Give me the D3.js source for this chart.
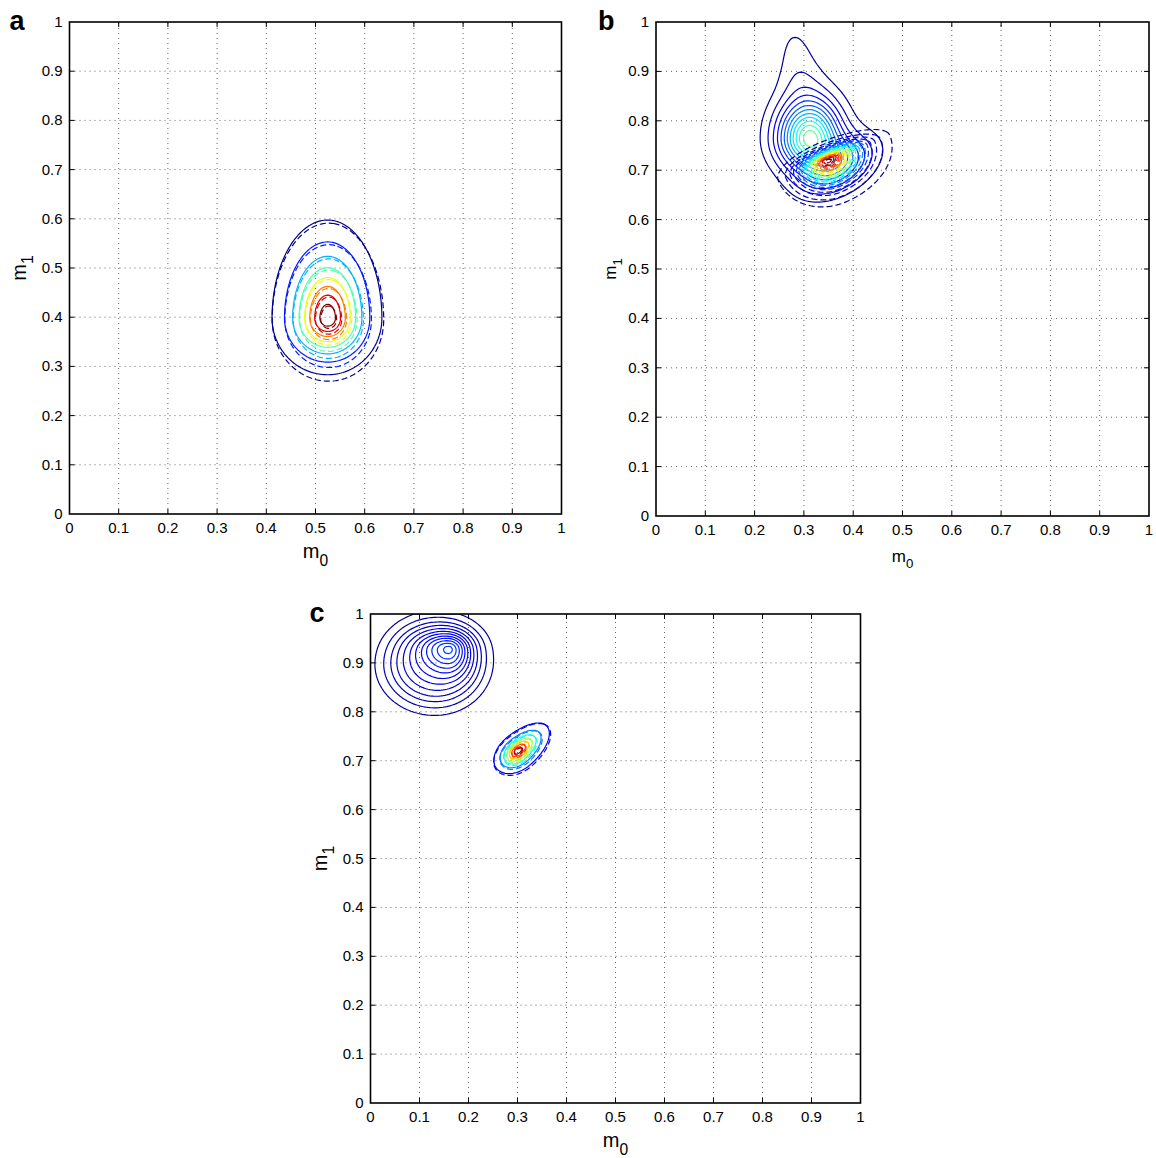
<!DOCTYPE html>
<html lang="en">
<head>
<meta charset="utf-8"/>
<title>Contours</title>
<script src="https://d3js.org/d3.v7.min.js"></script>
<style>
    body { margin: 0; background: #fff; }
    svg { display: block; }
    text { font-family: "Liberation Sans", Arial, Helvetica, sans-serif; fill: #000; }
    .grid line { stroke: #666; stroke-width: 1; stroke-dasharray: 1,4; }
</style>
</head>
<body>
<svg id="chart" width="1156" height="1158"></svg>
<script>
    // tick values shared by every panel
    const ticks = [0, 0.1, 0.2, 0.3, 0.4, 0.5, 0.6, 0.7, 0.8, 0.9, 1];
    const tickLabels = ["0", "0.1", "0.2", "0.3", "0.4", "0.5", "0.6", "0.7", "0.8", "0.9", "1"];

    // density components: [m0, m1, sLeft, sRight, sDown, sUp, tiltDeg, weight, shape]
    const solidA = [[0.525, 0.398, 0.067, 0.065, 0.068, 0.118, 0, 1, 1.5]];
    const dashedA = [[0.527, 0.395, 0.068, 0.066, 0.074, 0.116, 0, 1, 1.5]];
    const levelsA = [0.111, 0.222, 0.333, 0.444, 0.556, 0.667, 0.778, 0.889];

    const solidB = [
        [0.312, 0.765, 0.061, 0.058, 0.060, 0.075, 0, 0.50, 1.85],
        [0.290, 0.900, 0.045, 0.045, 0.060, 0.120, 8, 0.055, 2],
        [0.370, 0.710, 0.075, 0.075, 0.045, 0.045, 30, 0.20, 1.85]
    ];
    const dashedB = [[0.349, 0.720, 0.050, 0.062, 0.042, 0.018, 22, 1, 1.5]];
    const levelsB = [0.04, 0.08, 0.12, 0.16, 0.20, 0.24, 0.28, 0.32, 0.36, 0.40, 0.44, 0.48,
        0.52, 0.56, 0.60, 0.64, 0.68, 0.72, 0.76, 0.80, 0.84, 0.88, 0.92, 0.96];

    const solidCbig = [
        [0.130, 0.895, 0.100, 0.095, 0.085, 0.090, 0, 0.08, 3],
        [0.162, 0.930, 0.060, 0.045, 0.050, 0.035, 0, 0.11, 1.6]
    ];
    const solidCsmall = [[0.300, 0.720, 0.032, 0.045, 0.022, 0.020, 40, 1, 1.5]];
    const dashedC = [[0.301, 0.718, 0.033, 0.046, 0.023, 0.020, 40, 1, 1.5]];
    const levelsCbig = [0.0146, 0.029, 0.044, 0.058, 0.073, 0.088, 0.102, 0.117, 0.131, 0.146, 0.161, 0.175];
    const levelsCsmall = [0.1, 0.23, 0.36, 0.49, 0.62, 0.75, 0.88];

    const panels = [
        {name: "a", x0: 69.5, y0: 22, w: 492, h: 492, axisFont: 20, colorDomain: [0.111, 0.85], letterDx: -60,
            sets: [{comps: solidA, levels: levelsA, dash: null}, {comps: dashedA, levels: levelsA, dash: "6,3"}]},
        {name: "b", x0: 656, y0: 22, w: 493, h: 494, axisFont: 17, colorDomain: [0.04, 0.96], letterDx: -58,
            sets: [{comps: solidB, levels: levelsB, dash: null}, {comps: dashedB, levels: levelsB, dash: "6,3"}]},
        {name: "c", x0: 370.5, y0: 614, w: 490, h: 489, axisFont: 20, colorDomain: [0.0, 0.92], letterDx: -61,
            sets: [{comps: solidCbig, levels: levelsCbig, dash: null},
                {comps: solidCsmall, levels: levelsCsmall, dash: null},
                {comps: dashedC, levels: levelsCsmall, dash: "6,3"}]}
    ];

    // MATLAB-style jet
    const jet = d3.scaleLinear()
        .domain([0, 0.125, 0.375, 0.625, 0.875, 1])
        .range(["#00008f", "#0000ff", "#00ffff", "#ffff00", "#ff0000", "#800000"])
        .clamp(true);

    function density(comps, x, y) {
        let s = 0;
        for (const [cx, cy, sl, sr, sd, su, tilt, w, q] of comps) {
            const a = tilt * Math.PI / 180;
            const dx = x - cx, dy = y - cy;
            const u = dx * Math.cos(a) + dy * Math.sin(a);
            const v = -dx * Math.sin(a) + dy * Math.cos(a);
            const r = Math.hypot(u / (u < 0 ? sl : sr), v / (v < 0 ? sd : su));
            s += w * Math.exp(-Math.pow(r, q));
        }
        return s;
    }

    const svg = d3.select("#chart");
    const N = 260;

    panels.forEach((p, pi) => {
        const x = d3.scaleLinear().domain([0, 1]).range([p.x0, p.x0 + p.w]);
        const y = d3.scaleLinear().domain([0, 1]).range([p.y0 + p.h, p.y0]);
        const g = svg.append("g");

        g.append("clipPath").attr("id", "clip" + pi)
            .append("rect").attr("x", p.x0).attr("y", p.y0).attr("width", p.w).attr("height", p.h);

        // grid
        const grid = g.append("g").attr("class", "grid");
        grid.selectAll(".gx").data(ticks.slice(1, -1)).enter().append("line")
            .attr("x1", d => x(d)).attr("x2", d => x(d)).attr("y1", y(0)).attr("y2", y(1));
        grid.selectAll(".gy").data(ticks.slice(1, -1)).enter().append("line")
            .attr("y1", d => y(d)).attr("y2", d => y(d)).attr("x1", x(0)).attr("x2", x(1));

        // contours
        const proj = d3.geoTransform({
            point: function (gx, gy) { this.stream.point(x(gx / N), y(gy / N)); }
        });
        const path = d3.geoPath(proj);
        const color = d3.scaleLinear().domain(p.colorDomain).range([0, 1]);
        const cg = g.append("g").attr("clip-path", `url(#clip${pi})`);
        p.sets.forEach(set => {
            const values = new Float64Array(N * N);
            for (let j = 0; j < N; j++) {
                for (let i = 0; i < N; i++) {
                    values[j * N + i] = density(set.comps, (i + 0.5) / N, (j + 0.5) / N);
                }
            }
            const cs = d3.contours().size([N, N]).thresholds(set.levels)(values);
            cg.append("g").selectAll("path").data(cs).enter().append("path")
                .attr("d", path)
                .attr("fill", "none")
                .attr("stroke", d => jet(color(d.value)))
                .attr("stroke-width", 1.2)
                .attr("stroke-linejoin", "round")
                .attr("stroke-dasharray", set.dash);
        });

        // ticks inward on all four sides
        const tk = g.append("g").attr("stroke", "#000").attr("stroke-width", 1);
        ticks.slice(1, -1).forEach(t => {
            tk.append("line").attr("x1", x(t)).attr("x2", x(t)).attr("y1", y(0)).attr("y2", y(0) - 5);
            tk.append("line").attr("x1", x(t)).attr("x2", x(t)).attr("y1", y(1)).attr("y2", y(1) + 5);
            tk.append("line").attr("y1", y(t)).attr("y2", y(t)).attr("x1", x(0)).attr("x2", x(0) + 5);
            tk.append("line").attr("y1", y(t)).attr("y2", y(t)).attr("x1", x(1)).attr("x2", x(1) - 5);
        });

        // box
        g.append("rect").attr("x", p.x0).attr("y", p.y0).attr("width", p.w).attr("height", p.h)
            .attr("fill", "none").attr("stroke", "#000").attr("stroke-width", 1.6);

        // tick labels
        g.selectAll(".xl").data(ticks).enter().append("text")
            .attr("x", d => x(d)).attr("y", y(0) + 19)
            .attr("text-anchor", "middle").attr("font-size", 15)
            .text((d, i) => tickLabels[i]);
        g.selectAll(".yl").data(ticks).enter().append("text")
            .attr("x", x(0) - 7).attr("y", d => y(d) + 5)
            .attr("text-anchor", "end").attr("font-size", 15)
            .text((d, i) => tickLabels[i]);

        // axis labels
        const fs = p.axisFont;
        const xl = g.append("text").attr("x", x(0.5)).attr("y", y(0) + (fs > 18 ? 44 : 46))
            .attr("text-anchor", "middle").attr("font-size", fs);
        xl.append("tspan").text("m");
        xl.append("tspan").attr("font-size", fs * 0.78).attr("dy", fs * 0.38).text("0");

        const yl = g.append("text")
            .attr("transform", `translate(${x(0) - (fs > 18 ? 44 : 40)},${y(0.5)}) rotate(-90)`)
            .attr("text-anchor", "middle").attr("font-size", fs);
        yl.append("tspan").text("m");
        yl.append("tspan").attr("font-size", fs * 0.78).attr("dy", fs * 0.38).text("1");

        // panel letter
        g.append("text").attr("x", p.x0 + p.letterDx).attr("y", p.y0 + 8)
            .attr("font-size", 27).attr("font-weight", "bold").text(p.name);
    });
</script>
</body>
</html>
